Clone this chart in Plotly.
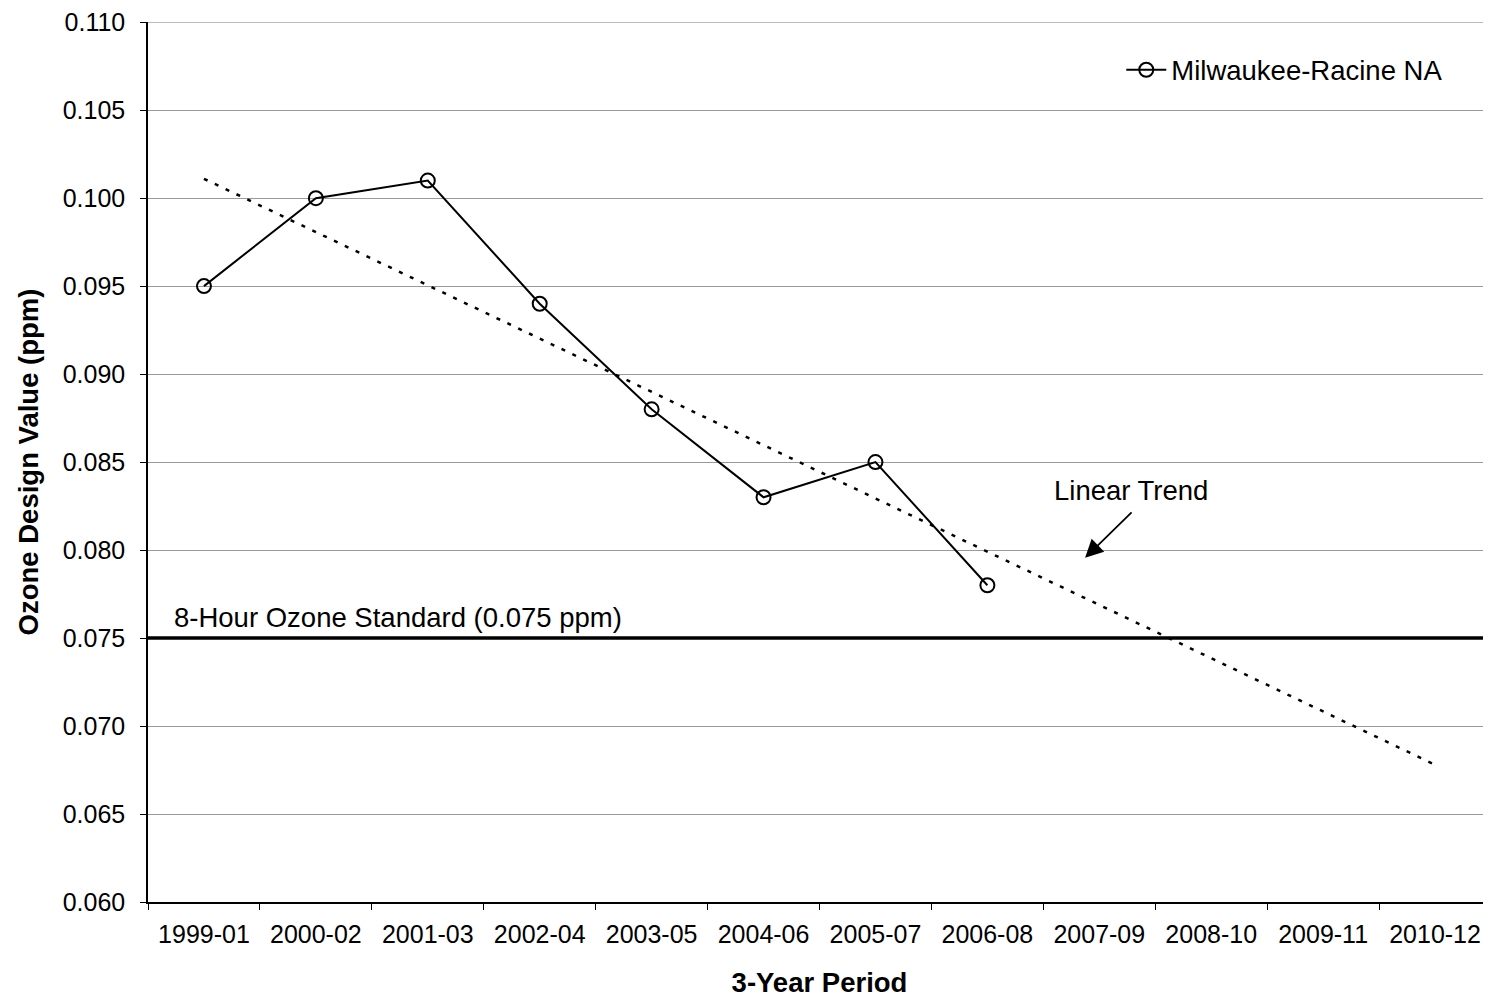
import plotly.graph_objects as go

periods = ["1999-01", "2000-02", "2001-03", "2002-04", "2003-05", "2004-06",
           "2005-07", "2006-08", "2007-09", "2008-10", "2009-11", "2010-12"]
design_values = [0.095, 0.100, 0.101, 0.094, 0.088, 0.083, 0.085, 0.078]
trend_periods = ["1999-01", "2010-12"]
trend_values = [0.1011, 0.0678]
standard_value = 0.075
y_ticks = [0.060, 0.065, 0.070, 0.075, 0.080, 0.085, 0.090, 0.095, 0.100, 0.105, 0.110]
y_tick_labels = ["0.060", "0.065", "0.070", "0.075", "0.080", "0.085", "0.090",
                 "0.095", "0.100", "0.105", "0.110"]

FONT = "Liberation Sans, Arial, sans-serif"
TICK_FS = 25
FS = 27.5
GRID = "#9a9a9a"

fig = go.Figure()
fig.add_trace(go.Scatter(
    x=trend_periods, y=trend_values, mode="lines",
    line=dict(color="black", width=2.5, dash="4px,8px"),
    showlegend=False, hoverinfo="skip"))
fig.add_trace(go.Scatter(
    x=periods[:len(design_values)], y=design_values, mode="lines+markers",
    name="Milwaukee-Racine NA",
    line=dict(color="black", width=2),
    marker=dict(symbol="circle-open", size=14, color="black", line=dict(width=2))))

# top gridline (plotly drops gridlines sitting on the plot edge)
fig.add_shape(type="line", xref="paper", x0=0, x1=1, yref="y",
              y0=y_ticks[-1], y1=y_ticks[-1], layer="below",
              line=dict(color=GRID, width=1))
fig.add_shape(type="line", xref="paper", x0=0, x1=1, yref="y",
              y0=standard_value, y1=standard_value,
              line=dict(color="black", width=3.5))

fig.add_annotation(x=-0.29, y=standard_value, xref="x", yref="y",
                   text="8-Hour Ozone Standard (0.075 ppm)", showarrow=False,
                   xanchor="left", yanchor="bottom", yshift=3,
                   font=dict(family=FONT, size=FS, color="black"))
# arrow of the trend label
fig.add_annotation(x=7.873, y=0.07956, xref="x", yref="y",
                   text="", showarrow=True, arrowhead=2,
                   arrowsize=2, arrowwidth=1.8, arrowcolor="black",
                   ax=48, ay=-47)
fig.add_annotation(x=8.285, y=0.08341, xref="x", yref="y",
                   text="Linear Trend", showarrow=False,
                   font=dict(family=FONT, size=FS, color="black"))

fig.update_layout(
    width=1483, height=990,
    margin=dict(l=140, r=0, t=12, b=96),
    paper_bgcolor="white", plot_bgcolor="white",
    font=dict(family=FONT, size=FS, color="black"),
    legend=dict(x=0.7247, y=0.9456, xanchor="left", yanchor="middle",
                itemwidth=40,
                bgcolor="rgba(0,0,0,0)", font=dict(size=FS)),
    xaxis=dict(
        type="category", categoryorder="array", categoryarray=periods,
        range=[-0.5, 11.5], tickson="boundaries",
        showline=True, linecolor="black", linewidth=1.5,
        ticks="outside", ticklen=6, tickcolor="black",
        showgrid=False, zeroline=False, ticklabelstandoff=9,
        tickfont=dict(size=TICK_FS),
        title=dict(text="<b>3-Year Period</b>", standoff=27,
                   font=dict(size=FS))),
    yaxis=dict(
        range=[0.060, 0.11001], tickvals=y_ticks, ticktext=y_tick_labels,
        showline=True, linecolor="black", linewidth=1.5,
        ticks="outside", ticklen=6, tickcolor="black",
        showgrid=True, gridcolor=GRID, gridwidth=1, zeroline=False,
        ticklabelstandoff=10, ticklabeloverflow="allow",
        tickfont=dict(size=TICK_FS),
        title=dict(text="<b>Ozone Design Value (ppm)</b>", standoff=16,
                   font=dict(size=FS))),
)

fig.write_html("out.html")
